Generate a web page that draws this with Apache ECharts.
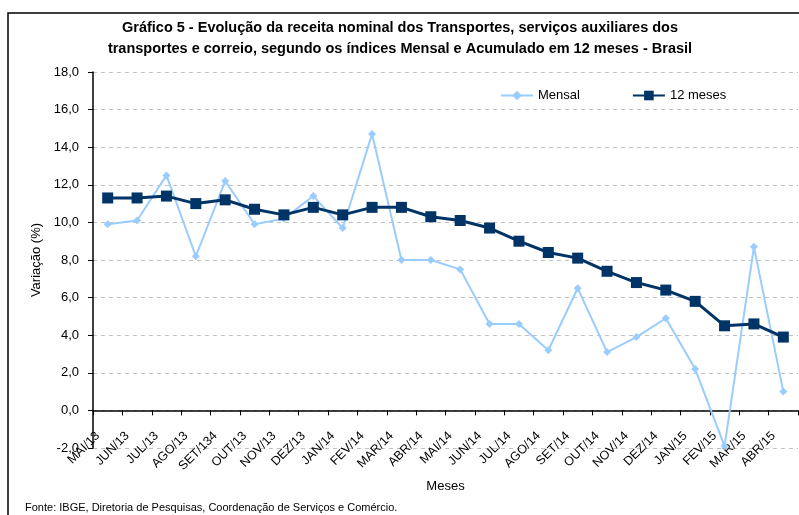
<!DOCTYPE html>
<html>
<head>
<meta charset="utf-8">
<script src="https://cdn.jsdelivr.net/npm/echarts@6/dist/echarts.min.js"></script>
<style>
  html, body { margin: 0; padding: 0; background: #fff; }
  #chart { width: 799px; height: 515px; }
</style>
</head>
<body>
<div id="chart"></div>
<script>
const months = ['MAI/13', 'JUN/13', 'JUL/13', 'AGO/13', 'SET/134', 'OUT/13', 'NOV/13', 'DEZ/13',
  'JAN/14', 'FEV/14', 'MAR/14', 'ABR/14', 'MAI/14', 'JUN/14', 'JUL/14', 'AGO/14', 'SET/14',
  'OUT/14', 'NOV/14', 'DEZ/14', 'JAN/15', 'FEV/15', 'MAR/15', 'ABR/15'];

const mensal = [9.9, 10.1, 12.5, 8.2, 12.2, 9.9, 10.2, 11.4, 9.7, 14.7, 8.0, 8.0,
  7.5, 4.6, 4.6, 3.2, 6.5, 3.1, 3.9, 4.9, 2.2, -1.9, 8.7, 1.0];

const acumulado12 = [11.3, 11.3, 11.4, 11.0, 11.2, 10.7, 10.4, 10.8, 10.4, 10.8, 10.8, 10.3,
  10.1, 9.7, 9.0, 8.4, 8.1, 7.4, 6.8, 6.4, 5.8, 4.5, 4.6, 3.9];

const titleLines = [
  'Gráfico 5 - Evolução da receita nominal dos Transportes, serviços auxiliares dos',
  'transportes e correio, segundo os índices Mensal e Acumulado em 12 meses - Brasil'
];

const fmt = v => v.toFixed(1).replace('.', ',');
const font = 'Liberation Sans, Arial, sans-serif';

const chart = echarts.init(document.getElementById('chart'));

chart.setOption({
  backgroundColor: '#fff',
  animation: false,
  textStyle: { fontFamily: font, color: '#000' },
  legend: {
    left: 495,
    top: 84,
    itemWidth: 32,
    itemHeight: 12,
    itemGap: 52,
    textStyle: { fontSize: 13, color: '#000' },
    data: ['Mensal', '12 meses']
  },
  grid: {
    left: 93,
    right: 1,
    top: 72,
    bottom: 67,
    containLabel: false,
    outerBoundsMode: 'none'
  },
  xAxis: {
    type: 'category',
    data: months,
    name: 'Meses',
    nameLocation: 'middle',
    nameGap: 32,
    nameMoveOverlap: false,
    nameTextStyle: { fontSize: 13, color: '#000' },
    axisLine: { onZero: true, lineStyle: { color: '#000', width: 1.5 } },
    axisTick: { show: true, length: 5, lineStyle: { color: '#000' } },
    axisLabel: {
      rotate: 45,
      fontSize: 12.5,
      color: '#000',
      margin: -24,
      padding: [0, 14, 0, 0],
      interval: 0
    }
  },
  yAxis: {
    type: 'value',
    min: -2,
    max: 18,
    interval: 2,
    name: 'Variação (%)',
    nameLocation: 'middle',
    nameGap: 50,
    nameMoveOverlap: false,
    nameTextStyle: { fontSize: 13, color: '#000' },
    axisLine: { show: true, lineStyle: { color: '#000', width: 1.5 } },
    axisTick: { show: true, length: 5, lineStyle: { color: '#000' } },
    axisLabel: {
      fontSize: 13,
      color: '#000',
      margin: 14,
      formatter: fmt
    },
    splitLine: {
      show: true,
      lineStyle: { color: '#c0c0c0', type: [4, 4], width: 1 }
    }
  },
  series: [
    {
      name: 'Mensal',
      type: 'line',
      data: mensal,
      symbol: 'diamond',
      symbolSize: 8,
      lineStyle: { color: '#99ccff', width: 2 },
      itemStyle: { color: '#99ccff' },
      z: 2
    },
    {
      name: '12 meses',
      type: 'line',
      data: acumulado12,
      symbol: 'rect',
      symbolSize: 11,
      lineStyle: { color: '#003366', width: 3 },
      itemStyle: { color: '#003366' },
      z: 3
    }
  ],
  graphic: [
    {
      type: 'rect',
      shape: { x: 8, y: 13, width: 820, height: 540 },
      style: { fill: 'none', stroke: '#000', lineWidth: 1.5 },
      silent: true,
      z: -1
    },
    {
      type: 'text',
      x: 400,
      y: 20,
      style: {
        text: titleLines[0],
        align: 'center',
        verticalAlign: 'top',
        fontSize: 14.5,
        fontWeight: 'bold',
        fill: '#000',
        fontFamily: font
      }
    },
    {
      type: 'text',
      x: 400,
      y: 41,
      style: {
        text: titleLines[1],
        align: 'center',
        verticalAlign: 'top',
        fontSize: 14.5,
        fontWeight: 'bold',
        fill: '#000',
        fontFamily: font
      }
    },
    {
      type: 'text',
      left: 25,
      top: 502,
      style: {
        text: 'Fonte: IBGE, Diretoria de Pesquisas, Coordenação de Serviços e Comércio.',
        fontSize: 11,
        fill: '#000',
        fontFamily: font
      }
    }
  ]
});
</script>
</body>
</html>
